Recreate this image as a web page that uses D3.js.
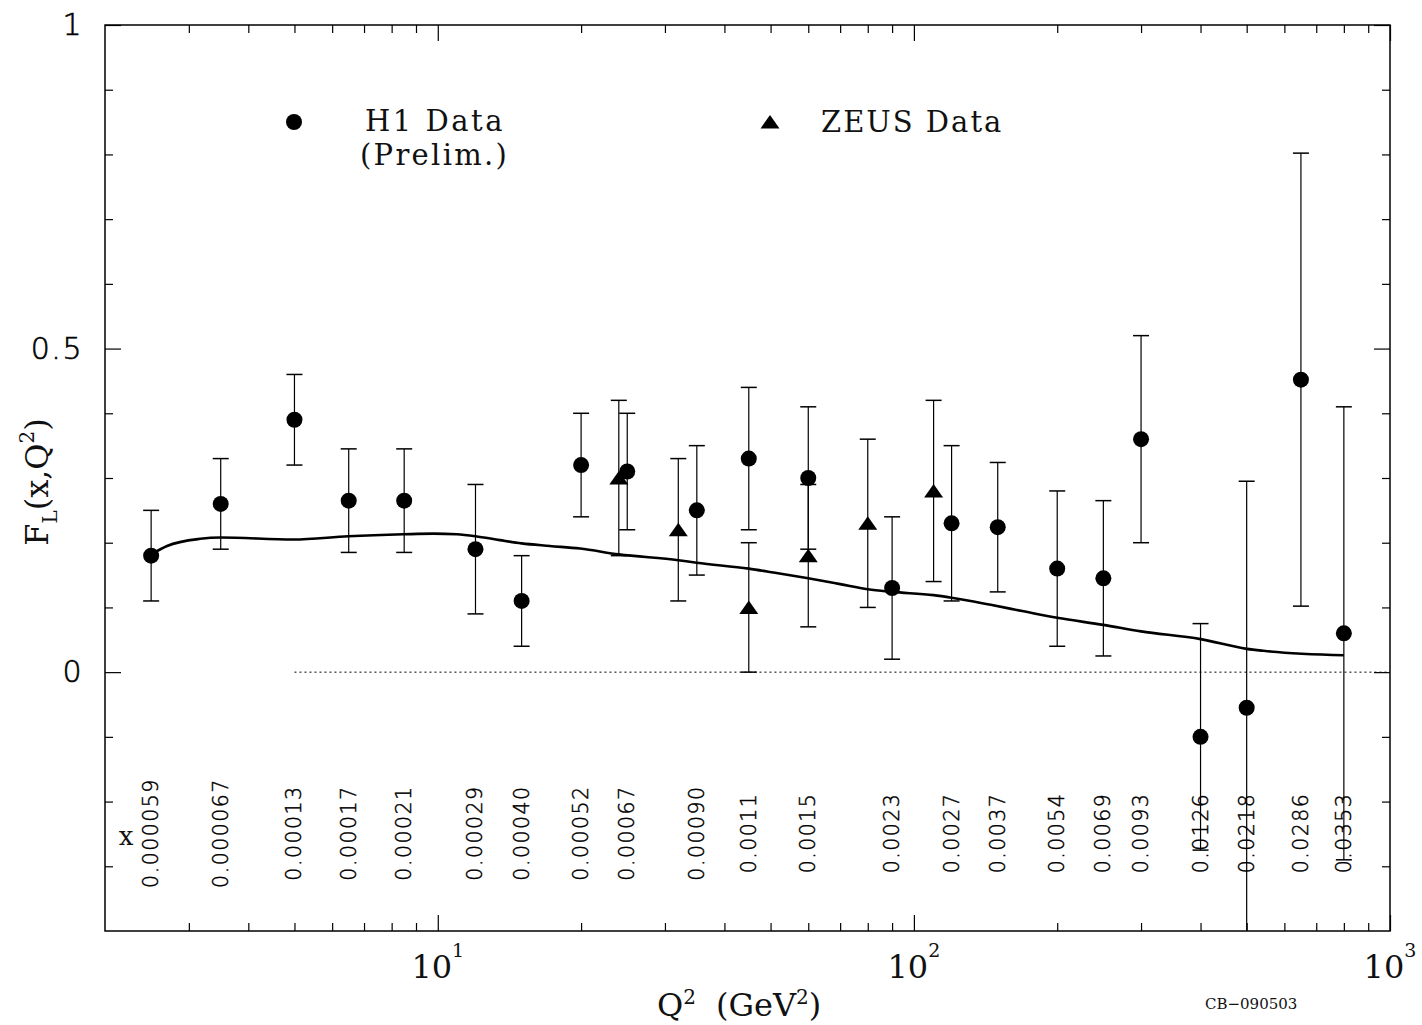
<!DOCTYPE html>
<html><head><meta charset="utf-8">
<script src="https://cdn.jsdelivr.net/npm/d3@7"></script>
<style>body{margin:0;background:#fff;} svg{display:block;}</style>
</head><body>
<svg id="c" width="1422" height="1025"></svg>
<script>
// ---------- data ----------
const h1Q2   = [2.5, 3.5, 5, 6.5, 8.5, 12, 15, 20, 25, 35, 45, 60, 90, 120, 150, 200, 250, 300, 400, 500, 650, 800];
const h1FL   = [0.18, 0.26, 0.39, 0.265, 0.265, 0.19, 0.11, 0.32, 0.31, 0.25, 0.33, 0.30, 0.13, 0.23, 0.224, 0.16, 0.145, 0.36, -0.10, -0.055, 0.452, 0.06];
const h1Err  = [0.07, 0.07, 0.07, 0.08, 0.08, 0.10, 0.07, 0.08, 0.09, 0.10, 0.11, 0.11, 0.11, 0.12, 0.10, 0.12, 0.12, 0.16, 0.175, 0.35, 0.35, 0.35];
const xValueLabels = ["0.000059","0.000067","0.00013","0.00017","0.00021","0.00029","0.00040","0.00052","0.00067","0.00090","0.0011","0.0015","0.0023","0.0027","0.0037","0.0054","0.0069","0.0093","0.0126","0.0218","0.0286","0.0353"];

const zeusQ2  = [24, 32, 45, 60, 80, 110];
const zeusFL  = [0.30, 0.22, 0.10, 0.18, 0.23, 0.28];
const zeusErr = [0.12, 0.11, 0.10, 0.11, 0.13, 0.14];

const theoryQ2 = [2.5, 2.7, 3.17, 3.5, 4.97, 6.49, 8.47, 9.79, 10.96, 12, 13.5, 15, 17.2, 19.9, 24, 32, 35, 45, 50.7, 60, 70, 80, 90, 110, 120, 145, 170, 200, 250, 300, 400, 500, 542, 800];
const theoryFL = [0.182, 0.195, 0.206, 0.208, 0.205, 0.210, 0.213, 0.214, 0.213, 0.210, 0.204, 0.199, 0.195, 0.191, 0.182, 0.173, 0.169, 0.160, 0.154, 0.145, 0.136, 0.128, 0.124, 0.119, 0.115, 0.104, 0.094, 0.084, 0.073, 0.063, 0.051, 0.036, 0.033, 0.026];

const zeroLineQ2 = [5, 1000];

const xMajorTicks = [10, 100, 1000];
const xMajorExp   = ["1", "2", "3"];
const xMinorTicks = [3,4,5,6,7,8,9,20,30,40,50,60,70,80,90,200,300,400,500,600,700,800,900];
const yMajorTicks = [0, 0.5, 1];
const yMinorTicks = [-0.3,-0.2,-0.1,0.1,0.2,0.3,0.4,0.6,0.7,0.8,0.9];
const yTickLabels = ["0", "0.5", "1"];

// ---------- layout ----------
const L = 105, R = 1390, T = 25, B = 931;
const svg = d3.select("#c");
const x = d3.scaleLog().domain([2, 1000]).range([L, R]);
const y = d3.scaleLinear().domain([-0.4, 1]).range([B, T]);

const SERIF = "'DejaVu Serif', 'Liberation Serif', serif";
const SANS = "'DejaVu Sans', 'Liberation Sans', sans-serif";

svg.append("defs").append("clipPath").attr("id","plotclip")
  .append("rect").attr("x", L).attr("y", T).attr("width", R-L).attr("height", B-T);

// ---------- axes (ticks inward on all four sides) ----------
function styleAxis(g){
  g.select(".domain").remove();
  g.selectAll(".tick line").attr("stroke","#000").attr("stroke-width",1.2);
}
const noLab = () => "";
svg.append("g").attr("transform",`translate(0,${B})`).call(d3.axisTop(x).tickValues(xMinorTicks).tickSize(8).tickFormat(noLab)).call(styleAxis);
svg.append("g").attr("transform",`translate(0,${B})`).call(d3.axisTop(x).tickValues(xMajorTicks).tickSize(16).tickFormat(noLab)).call(styleAxis);
svg.append("g").attr("transform",`translate(0,${T})`).call(d3.axisBottom(x).tickValues(xMinorTicks).tickSize(8).tickFormat(noLab)).call(styleAxis);
svg.append("g").attr("transform",`translate(0,${T})`).call(d3.axisBottom(x).tickValues(xMajorTicks).tickSize(16).tickFormat(noLab)).call(styleAxis);
svg.append("g").attr("transform",`translate(${L},0)`).call(d3.axisRight(y).tickValues(yMinorTicks).tickSize(8).tickFormat(noLab)).call(styleAxis);
svg.append("g").attr("transform",`translate(${L},0)`).call(d3.axisRight(y).tickValues(yMajorTicks).tickSize(16).tickFormat(noLab)).call(styleAxis);
svg.append("g").attr("transform",`translate(${R},0)`).call(d3.axisLeft(y).tickValues(yMinorTicks).tickSize(8).tickFormat(noLab)).call(styleAxis);
svg.append("g").attr("transform",`translate(${R},0)`).call(d3.axisLeft(y).tickValues(yMajorTicks).tickSize(16).tickFormat(noLab)).call(styleAxis);

// y tick labels
const yl = svg.append("g").attr("transform",`translate(${L},0)`)
  .call(d3.axisLeft(y).tickValues(yMajorTicks).tickSize(0).tickPadding(22).tickFormat((d,i)=>yTickLabels[i]));
yl.select(".domain").remove();
yl.attr("font-family", SANS).attr("font-size", 30).attr("font-weight", 200);
yl.selectAll("text").attr("fill","#000").attr("stroke","#000").attr("stroke-width",0.6).attr("letter-spacing", 1.5);

// frame
svg.append("rect").attr("x",L).attr("y",T).attr("width",R-L).attr("height",B-T)
  .attr("fill","none").attr("stroke","#000").attr("stroke-width",1.5);

// x major labels 10^n
const xl = svg.append("g").attr("font-family", SERIF).attr("fill","#111");
xMajorTicks.forEach((v,i)=>{
  const t = xl.append("text").attr("x", x(v)).attr("y", 978).attr("text-anchor","middle").attr("font-size",32);
  t.append("tspan").text("10");
  t.append("tspan").attr("font-size",19).attr("dy",-21).text(xMajorExp[i]);
});

// axis titles
const xt = svg.append("text").attr("font-family",SERIF).attr("fill","#111").attr("font-size",32)
  .attr("x",657).attr("y",1016);
xt.append("tspan").text("Q");
xt.append("tspan").attr("font-size",20).attr("dy",-12).text("2");
xt.append("tspan").attr("dx",20).attr("dy",12).text("(GeV");
xt.append("tspan").attr("font-size",20).attr("dy",-12).text("2");
xt.append("tspan").attr("dy",12).text(")");

const yt = svg.append("text").attr("font-family",SERIF).attr("fill","#111").attr("font-size",32)
  .attr("transform","translate(48,482) rotate(-90)").attr("text-anchor","middle");
yt.append("tspan").text("F");
yt.append("tspan").attr("font-size",20).attr("dy",9).text("L");
yt.append("tspan").attr("dy",-9).text("(x,Q");
yt.append("tspan").attr("font-size",20).attr("dy",-14).text("2");
yt.append("tspan").attr("dy",14).text(")");

// x value labels (rotated)
svg.append("text").attr("x",126).attr("y",845).attr("text-anchor","middle")
  .attr("font-family",SERIF).attr("font-size",26).attr("fill","#111").text("x");
svg.append("g").selectAll("text").data(h1Q2).join("text")
  .attr("transform", d => `translate(${x(d)},833) rotate(-90)`)
  .attr("text-anchor","middle").attr("dominant-baseline","central")
  .attr("font-family",SANS).attr("font-weight",200).attr("font-size",20.5).attr("letter-spacing",1.5)
  .attr("fill","#000").attr("stroke","#000").attr("stroke-width",0.45)
  .text((d,i)=>xValueLabels[i]);

// CB code
svg.append("text").attr("x",1205).attr("y",1009).attr("font-family",SERIF).attr("font-size",15)
  .attr("fill","#111").text("CB\u2212090503");

// ---------- plot contents ----------
const plot = svg.append("g").attr("clip-path","url(#plotclip)");

// dotted zero line
plot.append("line").attr("x1",x(zeroLineQ2[0])).attr("x2",x(zeroLineQ2[1]))
  .attr("y1",y(0)).attr("y2",y(0)).attr("stroke","#000").attr("stroke-width",1).attr("stroke-dasharray","2,3");

// theory curve
const theory = theoryQ2.map((q,i)=>[q, theoryFL[i]]);
plot.append("path").datum(theory)
  .attr("d", d3.line().x(d=>x(d[0])).y(d=>y(d[1])).curve(d3.curveMonotoneX))
  .attr("fill","none").attr("stroke","#000").attr("stroke-width",2.6);

function errorBars(q2, fl, err){
  const g = plot.append("g").attr("stroke","#000");
  q2.forEach((q,i)=>{
    const cx = x(q), y1 = y(fl[i]+err[i]), y0 = y(fl[i]-err[i]);
    g.append("line").attr("x1",cx).attr("x2",cx).attr("y1",y1).attr("y2",y0).attr("stroke-width",1.2);
    g.append("line").attr("x1",cx-8).attr("x2",cx+8).attr("y1",y1).attr("y2",y1).attr("stroke-width",1.5);
    g.append("line").attr("x1",cx-8).attr("x2",cx+8).attr("y1",y0).attr("y2",y0).attr("stroke-width",1.5);
  });
}
errorBars(h1Q2, h1FL, h1Err);
errorBars(zeusQ2, zeusFL, zeusErr);

// markers
plot.append("g").selectAll("circle").data(h1Q2).join("circle")
  .attr("cx", d=>x(d)).attr("cy", (d,i)=>y(h1FL[i])).attr("r", 8).attr("fill","#000");
const tri = "M-9.5,6.5L9.5,6.5L0,-7Z";
plot.append("g").selectAll("path").data(zeusQ2).join("path")
  .attr("transform", (d,i)=>`translate(${x(d)},${y(zeusFL[i])})`).attr("d", tri).attr("fill","#000");

// ---------- legend ----------
const lg = svg.append("g").attr("font-family",SERIF).attr("font-size",29).attr("fill","#111");
lg.append("circle").attr("cx",294).attr("cy",122).attr("r",8).attr("fill","#000");
lg.append("text").attr("x",365).attr("y",131).attr("letter-spacing",2.5).text("H1 Data");
lg.append("text").attr("x",360).attr("y",165).attr("letter-spacing",2.3).text("(Prelim.)");
lg.append("path").attr("transform","translate(770,122)").attr("d",tri).attr("fill","#000");
lg.append("text").attr("x",821).attr("y",132).attr("letter-spacing",2).text("ZEUS Data");
</script>
</body></html>
